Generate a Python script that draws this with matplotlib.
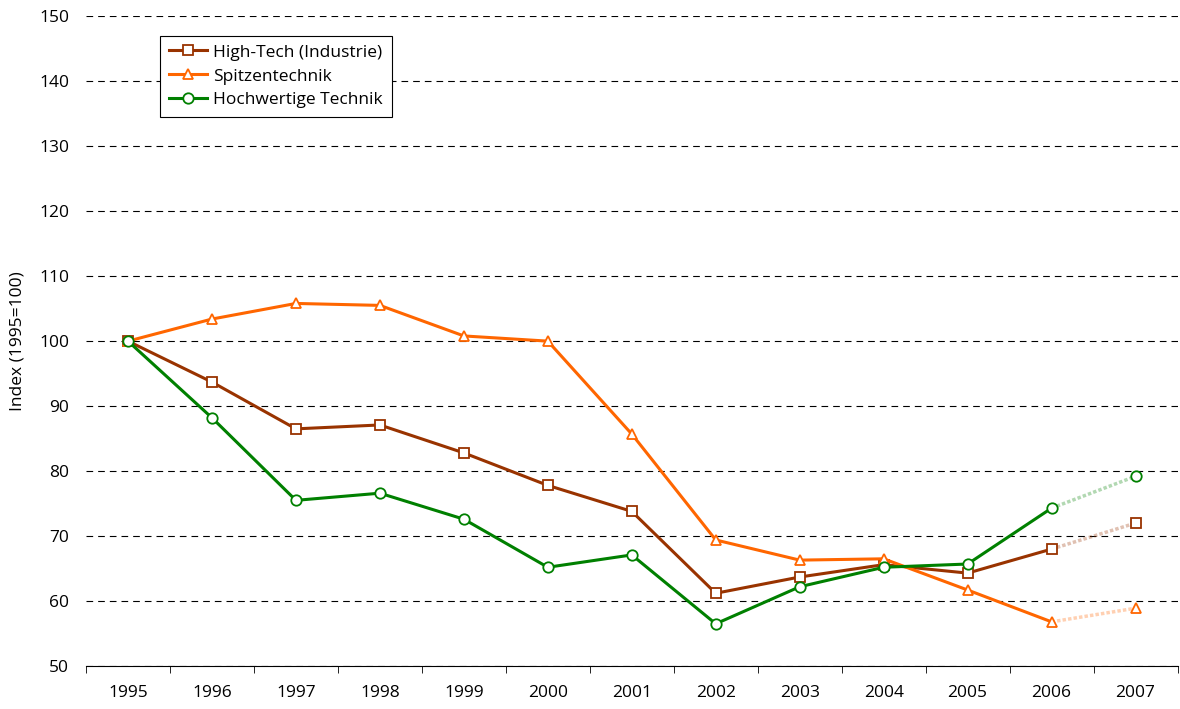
import matplotlib.pyplot as plt

years = ['1995', '1996', '1997', '1998', '1999', '2000', '2001',
         '2002', '2003', '2004', '2005', '2006', '2007']
high_tech = [100, 93.7, 86.5, 87.1, 82.8, 77.8, 73.8, 61.2, 63.7, 65.6, 64.3, 68.0, 72.0]
spitzen = [100, 103.4, 105.8, 105.5, 100.8, 100.0, 85.7, 69.4, 66.3, 66.5, 61.7, 56.8, 58.9]
hochwertig = [100, 88.2, 75.5, 76.6, 72.6, 65.2, 67.1, 56.5, 62.2, 65.2, 65.7, 74.3, 79.2]

series = [
    ('High-Tech (Industrie)', high_tech, '#993300', 's'),
    ('Spitzentechnik', spitzen, '#ff6600', '^'),
    ('Hochwertige Technik', hochwertig, '#008000', 'o'),
]

plt.rcParams['font.family'] = ['Open Sans', 'DejaVu Sans']

fig = plt.figure(figsize=(11.8, 7.09), dpi=100)
fig.patch.set_facecolor('#ffffff')
ax = fig.add_axes([0.0729, 0.0606, 0.925, 0.9165])

x = list(range(len(years)))
for name, vals, col, mk in series:
    # durchgezogen bis 2006
    ax.plot(x[:-1], vals[:-1], color=col, lw=2.2, marker=mk, markersize=7.5,
            markerfacecolor='white', markeredgecolor=col, markeredgewidth=1.3,
            label=name, zorder=3)
    # blasser, gepunkteter Abschnitt 2006-2007
    ax.plot(x[-2:], vals[-2:], color=col, lw=2.5, ls=(0, (1, 0.6)), alpha=0.3, zorder=2)
    ax.plot(x[-1:], vals[-1:], ls='none', marker=mk, markersize=7.5,
            markerfacecolor='white', markeredgecolor=col, markeredgewidth=1.3, zorder=3)

ax.set_xlim(-0.5, len(years) - 0.5)
ax.set_ylim(50, 150)
ax.set_yticks(range(50, 151, 10))
ax.set_xticks(x)
ax.set_xticklabels(years)
ax.set_xticks([i - 0.5 for i in range(len(years) + 1)], minor=True)
ax.tick_params(axis='x', which='major', length=0, pad=14, labelsize=12.5)
ax.tick_params(axis='x', which='minor', length=5, color='black')
ax.tick_params(axis='y', length=0, pad=12, labelsize=12.5)
ax.yaxis.grid(True, ls=(0, (6, 4.5)), color='black', lw=0.8)
ax.set_axisbelow(True)
for s in ['top', 'right', 'left']:
    ax.spines[s].set_visible(False)
ax.spines['bottom'].set_color('black')
ax.set_ylabel('Index (1995=100)', fontsize=12.5, labelpad=10)

leg = ax.legend(loc='upper left', bbox_to_anchor=(0.068, 0.97), fontsize=12.5,
                frameon=True, fancybox=False, edgecolor='black', framealpha=1,
                handlelength=2.2, borderpad=0.5, labelspacing=0.45,
                handletextpad=0.35, borderaxespad=0)
leg.get_frame().set_linewidth(0.8)

fig.savefig('out.png', dpi=100)
